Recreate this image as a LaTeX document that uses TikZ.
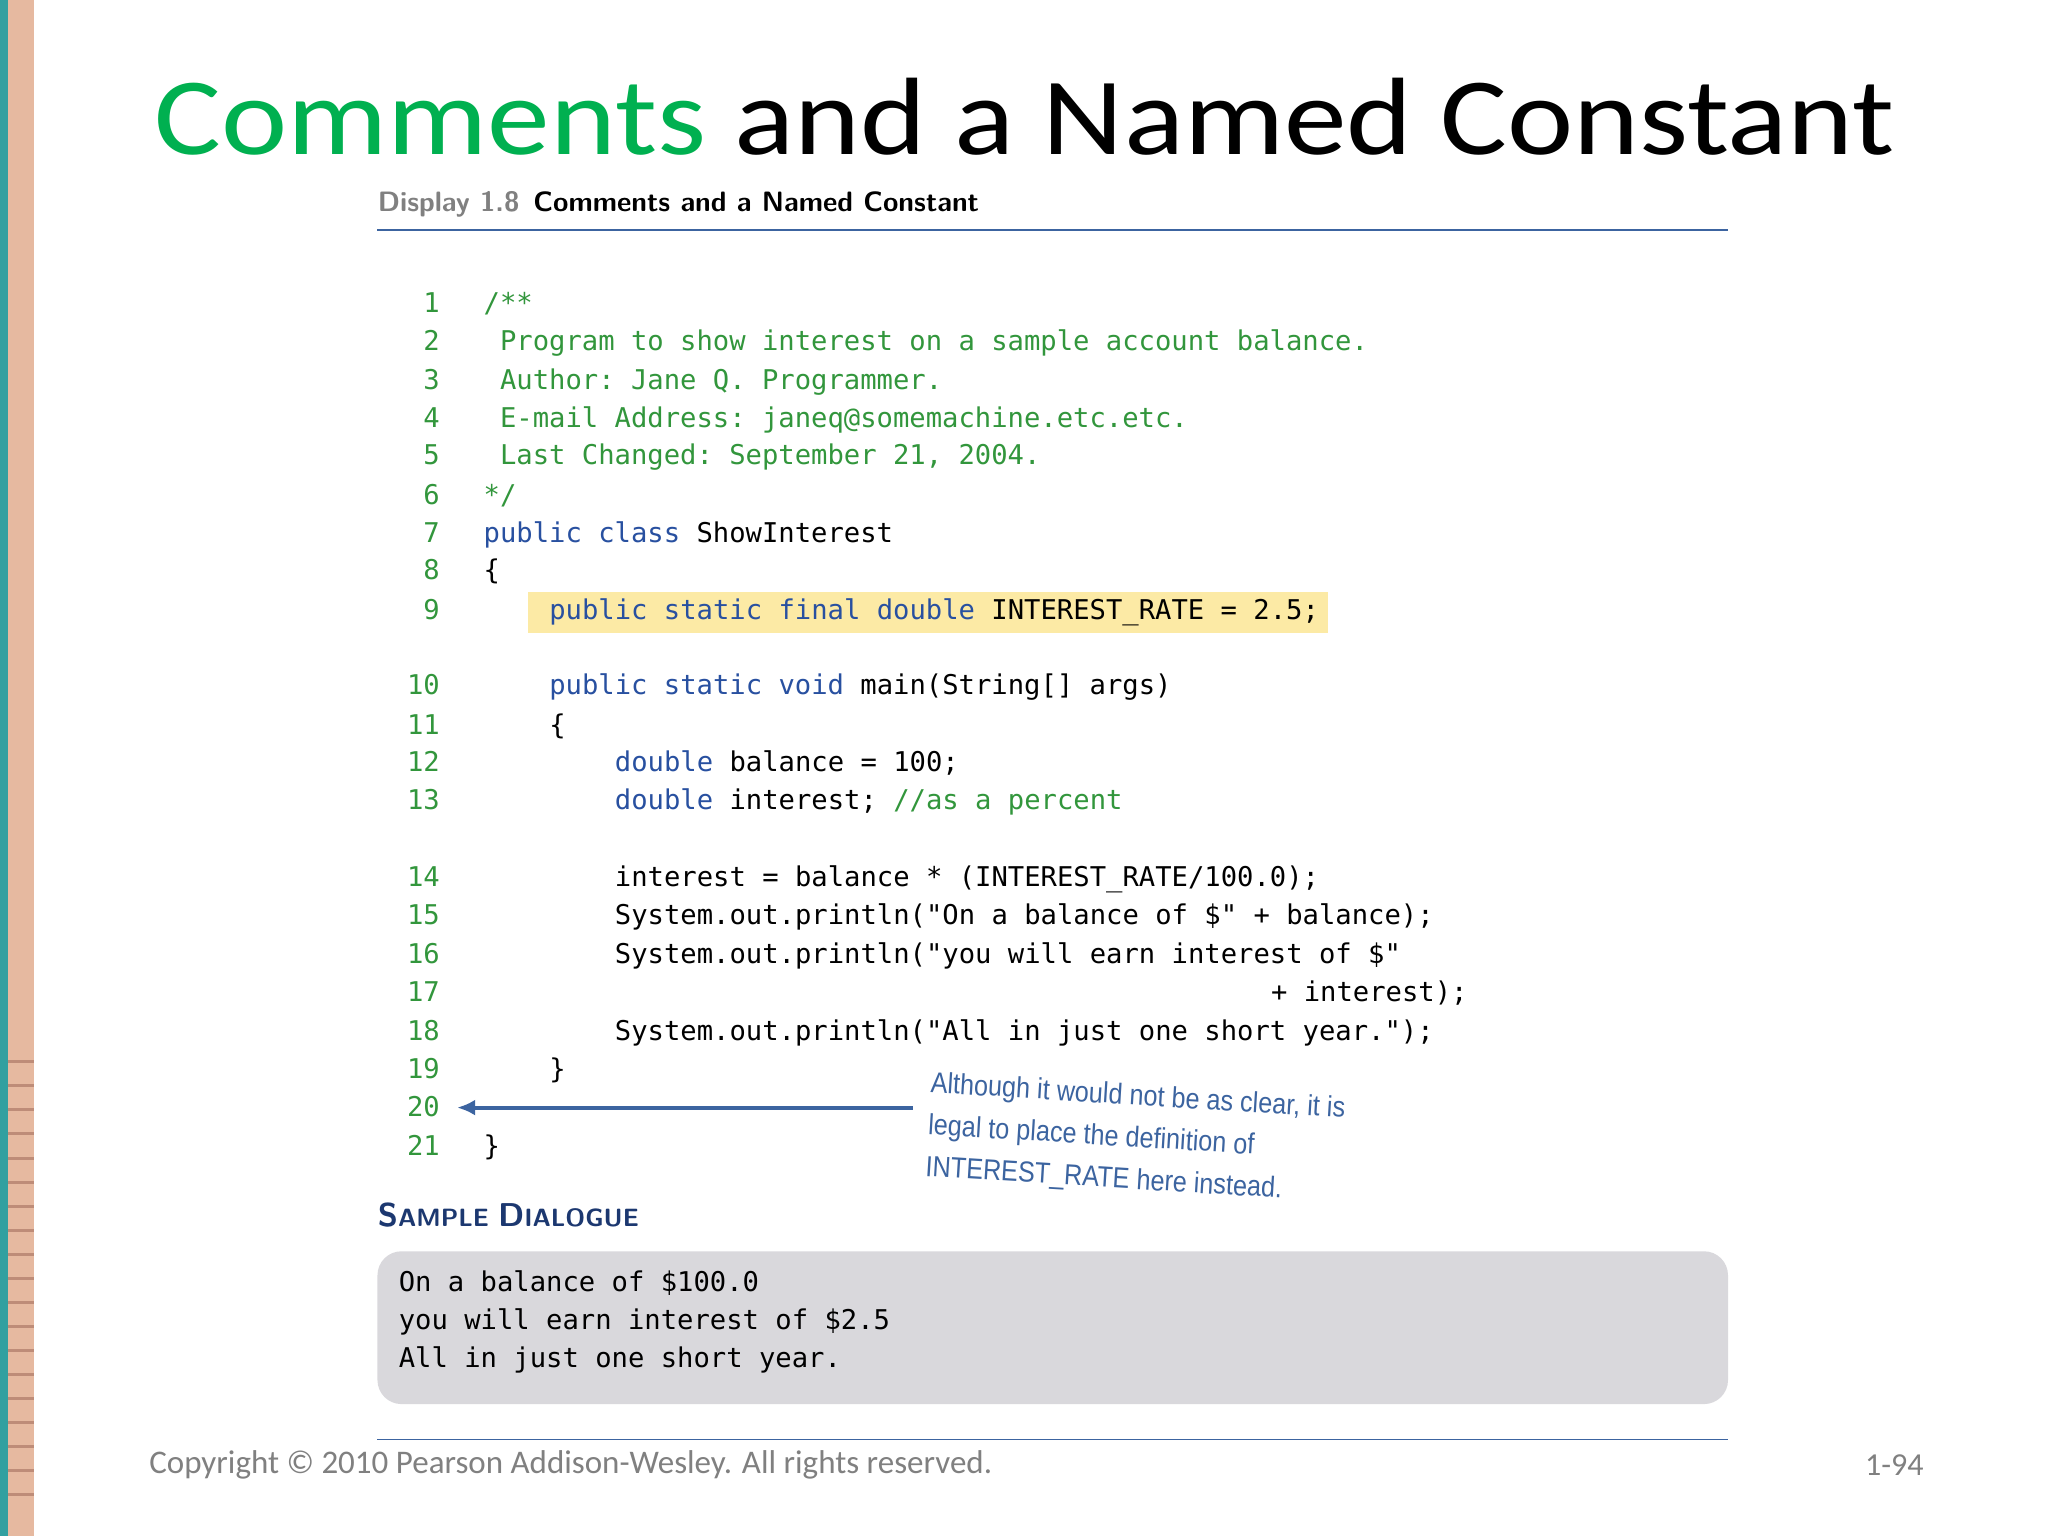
\documentclass[tikz,border=0pt]{standalone}
\usepackage{fontspec}
\usetikzlibrary{arrows.meta}
\setmainfont{Carlito}
\setmonofont{DejaVu Sans Mono}
\newfontfamily\notefont{Liberation Sans}
\definecolor{ttl}{RGB}{0,176,80}
\definecolor{kw}{RGB}{40,80,160}
\definecolor{cm}{RGB}{50,150,60}
\definecolor{rule}{RGB}{60,100,160}
\definecolor{hl}{RGB}{252,234,165}
\definecolor{dlg}{RGB}{217,216,220}
\definecolor{teal}{RGB}{50,160,160}
\definecolor{peach}{RGB}{230,185,160}
\definecolor{tick}{RGB}{190,140,120}
\newcommand{\kwd}[1]{\textcolor{kw}{#1}}
\newcommand{\cmt}[1]{\textcolor{cm}{#1}}
\begin{document}
\begin{tikzpicture}[x=0.653pt,y=-0.653pt,
  code/.style={anchor=base west,inner sep=0,font=\fontsize{13.6}{16}\selectfont\ttfamily},
  lnum/.style={anchor=base east,inner sep=0,text=cm,font=\fontsize{13.6}{16}\selectfont\ttfamily}]
\useasboundingbox (0,0) rectangle (1568,1176);
\fill[white] (0,0) rectangle (1568,1176);
\fill[teal] (0,0) rectangle (6,1176);
\fill[peach] (6,0) rectangle (26,1176);
\foreach \i in {0,...,18} \draw[tick,line width=1.5pt] (6,813+18.4*\i) -- (26,813+18.4*\i);
% title
\node[anchor=base west,inner sep=0,font=\fontsize{55}{60}\selectfont,xscale=1.14] (title) at (118,118) {\textcolor{ttl}{Comments} and a Named Constant};
\node[anchor=base west,inner sep=0,font=\fontsize{14}{16}\selectfont\bfseries\sffamily] (disp) at (289,162) {\textcolor{gray}{Display 1.8}\enspace Comments and a Named Constant};
\draw[rule,line width=0.8pt] (289,176) -- (1323,176);
% highlight
\fill[hl] (404,453) rectangle (1017,485);
% code
\def\cw{12.56}
\foreach \n/\y in {1/232,2/261,3/291,4/320,5/349,6/379,7/408,8/437,9/467,10/525,11/555,12/584,13/613,14/672,15/701,16/731,17/760,18/790,19/819,20/848,21/878}
  \node[lnum] (n\n) at (337,\y+7) {\n};
\node[code] (c1) at (370,239) {\cmt{/**}};
\node[code] (c2) at (370+\cw,268) {\cmt{Program to show interest on a sample account balance.}};
\node[code] (c3) at (370+\cw,298) {\cmt{Author: Jane Q. Programmer.}};
\node[code] (c4) at (370+\cw,327) {\cmt{E-mail Address: janeq@somemachine.etc.etc.}};
\node[code] (c5) at (370+\cw,356) {\cmt{Last Changed: September 21, 2004.}};
\node[code] (c6) at (370,386) {\cmt{*/}};
\node[code] (c7) at (370,415) {\kwd{public class} ShowInterest};
\node[code] (c8) at (370,444) {\{};
\node[code] (c9) at (370+4*\cw,474) {\kwd{public static final double} INTEREST\_RATE = 2.5;};
\node[code] (c10) at (370+4*\cw,532) {\kwd{public static void} main(String[] args)};
\node[code] (c11) at (370+4*\cw,562) {\{};
\node[code] (c12) at (370+8*\cw,591) {\kwd{double} balance = 100;};
\node[code] (c13) at (370+8*\cw,620) {\kwd{double} interest; \cmt{//as a percent}};
\node[code] (c14) at (370+8*\cw,679) {interest = balance * (INTEREST\_RATE/100.0);};
\node[code] (c15) at (370+8*\cw,708) {System.out.println("On a balance of \$" + balance);};
\node[code] (c16) at (370+8*\cw,738) {System.out.println("you will earn interest of \$"};
\node[code] (c17) at (370+48*\cw,767) {+ interest);};
\node[code] (c18) at (370+8*\cw,797) {System.out.println("All in just one short year.");};
\node[code] (c19) at (370+4*\cw,826) {\}};
\node[code] (c21) at (370,885) {\}};
% annotation
\coordinate (as) at (699,848);
\coordinate (ae) at (350,848);
\draw[rule,line width=2pt,-{Latex[length=9pt,width=8pt]}] (as) -- (ae);
\node[anchor=north west,inner sep=0,rotate=-3.5,text=rule,align=left,
  font=\fontsize{14.5}{21}\selectfont\notefont,xscale=0.87] (note) at (713,820)
  {Although it would not be as clear, it is\\legal to place the definition of\\INTEREST\_RATE here instead.};
% sample dialogue
\node[anchor=base west,inner sep=0,text=kw!70!black,font=\fontsize{16.5}{18}\selectfont\bfseries\sffamily] (sd) at (289,939) {S\fontsize{12.5}{14}\selectfont AMPLE \fontsize{16.5}{18}\selectfont D\fontsize{12.5}{14}\selectfont IALOGUE};
\fill[dlg,rounded corners=12pt] (289,958) rectangle (1323,1075);
\node[code] (d1) at (305,989) {On a balance of \$100.0};
\node[code] (d2) at (305,1018) {you will earn interest of \$2.5};
\node[code] (d3) at (305,1047) {All in just one short year.};
\draw[rule,line width=0.8pt] (289,1102) -- (1323,1102);
\node[anchor=base west,inner sep=0,text=gray,font=\fontsize{16.5}{18}\selectfont] (copy) at (114,1128) {Copyright © 2010 Pearson Addison-Wesley. All rights reserved.};
\node[anchor=base east,inner sep=0,text=gray,font=\fontsize{16}{18}\selectfont] (pg) at (1473,1130) {1-94};
\end{tikzpicture}
\end{document}
